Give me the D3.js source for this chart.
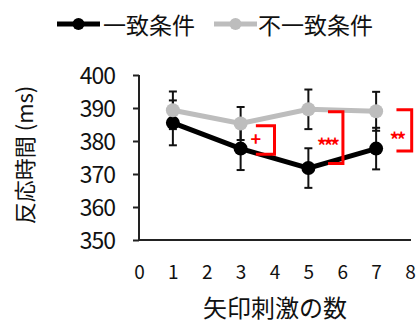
<!DOCTYPE html>
<html><head><meta charset="utf-8">
<script src="https://cdn.jsdelivr.net/npm/d3@7"></script>
<style>
html,body{margin:0;padding:0;background:#fff;}
svg{display:block;}
text{font-family:"Noto Sans CJK JP","Noto Sans",sans-serif;}
</style></head>
<body>
<svg id="c" width="419" height="323"></svg>
<script>
const xValues = [1, 3, 5, 7];
const congruent = [385.5, 377.7, 371.8, 377.7];
const congruentErr = [6.8, 6.5, 6.0, 6.3];
const incongruent = [389.3, 385.3, 389.6, 389.0];
const incongruentErr = [5.7, 5.0, 6.0, 5.9];
const seriesNames = ["一致条件", "不一致条件"];
const xTicks = [0, 1, 2, 3, 4, 5, 6, 7, 8];
const yTicks = [350, 360, 370, 380, 390, 400];
const sigLabels = ["+", "***", "**"];
const sigX0 = [3.45, 5.58, 7.6];
const sigX1 = [4.0, 6.02, 8.05];
const sigYTop = [384.6, 388.9, 389.5];
const sigYBot = [376.0, 373.2, 377.0];
const sigTextX = [3.45, 5.55, 7.6];
const sigTextY = [380.0, 377.8, 379.6];

const svg = d3.select("#c");
const x = d3.scaleLinear().domain([0, 8]).range([139, 410]);
const y = d3.scaleLinear().domain([350, 400]).range([240, 75]);

// y axis
const yAxis = svg.append("g").attr("transform", "translate(139,0)")
  .call(d3.axisLeft(y).tickValues(yTicks).tickSize(6).tickPadding(18).tickFormat(d3.format("d")));
yAxis.select(".domain").attr("d", `M0,${y(400)}V${y(350)}`).attr("stroke", "#222").attr("stroke-width", 2);
yAxis.selectAll(".tick line").attr("stroke", "#222").attr("stroke-width", 2);
yAxis.selectAll(".tick text").attr("font-size", 23).attr("fill", "#111").attr("letter-spacing", -1)
  .attr("font-family", "'Liberation Sans',sans-serif").attr("dy", "0.36em");

// x axis
const xAxis = svg.append("g").attr("transform", "translate(0,240)")
  .call(d3.axisBottom(x).tickValues(xTicks).tickSize(0).tickPadding(26).tickFormat(d3.format("d")));
xAxis.select(".domain").attr("d", `M${x(0)},0H${x(8) + 1}`).attr("stroke", "#222").attr("stroke-width", 2);
xAxis.selectAll(".tick text").attr("font-size", 19).attr("fill", "#111")
  .attr("font-family", "'DejaVu Sans',sans-serif");

// titles
svg.append("text").attr("x", 275).attr("y", 317).attr("text-anchor", "middle")
  .attr("font-size", 24).attr("fill", "#111").text("矢印刺激の数");
svg.append("text").attr("transform", "translate(33,155) rotate(-90)").attr("text-anchor", "middle")
  .attr("font-size", 22).attr("fill", "#111").text("反応時間 (ms)");

const line = d3.line().x((d, i) => x(xValues[i])).y(d => y(d));

function errorBars(vals, errs) {
  const g = svg.append("g").attr("stroke", "#111").attr("stroke-width", 2);
  vals.forEach((v, i) => {
    const cx = x(xValues[i]);
    g.append("line").attr("x1", cx).attr("x2", cx).attr("y1", y(v - errs[i])).attr("y2", y(v + errs[i]));
    [v - errs[i], v + errs[i]].forEach(e => {
      g.append("line").attr("x1", cx - 4).attr("x2", cx + 4).attr("y1", y(e)).attr("y2", y(e));
    });
  });
}

errorBars(congruent, congruentErr);
errorBars(incongruent, incongruentErr);

// black series
svg.append("path").datum(congruent).attr("d", line).attr("fill", "none").attr("stroke", "#000").attr("stroke-width", 5);
svg.selectAll(".cb").data(congruent).enter().append("circle")
  .attr("cx", (d, i) => x(xValues[i])).attr("cy", d => y(d)).attr("r", 7).attr("fill", "#000");

// gray series
svg.append("path").datum(incongruent).attr("d", line).attr("fill", "none").attr("stroke", "#bdbdbd").attr("stroke-width", 5);
svg.selectAll(".cg").data(incongruent).enter().append("circle")
  .attr("cx", (d, i) => x(xValues[i])).attr("cy", d => y(d)).attr("r", 7).attr("fill", "#bdbdbd");

// significance brackets
sigLabels.forEach((lab, i) => {
  const x0 = x(sigX0[i]), x1 = x(sigX1[i]), yt = y(sigYTop[i]), yb = y(sigYBot[i]);
  svg.append("path").attr("d", `M${x0},${yt}H${x1}V${yb}H${x0}`)
    .attr("fill", "none").attr("stroke", "#ff0000").attr("stroke-width", 3);
  svg.append("text").attr("x", x(sigTextX[i])).attr("y", y(sigTextY[i])).attr("text-anchor", "middle")
    .attr("dominant-baseline", "middle").attr("font-size", lab === "+" ? 18 : 19).attr("font-weight", "bold")
    .attr("letter-spacing", lab === "+" ? 0 : -3)
    .attr("fill", "#ff0000").attr("font-family", "'DejaVu Sans',sans-serif").text(lab);
});

// legend
const legend = [
  {name: seriesNames[0], color: "#000", x0: 57, x1: 100, tx: 103},
  {name: seriesNames[1], color: "#bdbdbd", x0: 214, x1: 257, tx: 258}
];
legend.forEach(l => {
  svg.append("line").attr("x1", l.x0).attr("x2", l.x1).attr("y1", 24).attr("y2", 24)
    .attr("stroke", l.color).attr("stroke-width", 5);
  svg.append("circle").attr("cx", (l.x0 + l.x1) / 2).attr("cy", 24).attr("r", 6).attr("fill", l.color);
  svg.append("text").attr("x", l.tx).attr("y", 24).attr("dominant-baseline", "central")
    .attr("font-size", 23).attr("fill", "#111").text(l.name);
});
</script>
</body></html>
